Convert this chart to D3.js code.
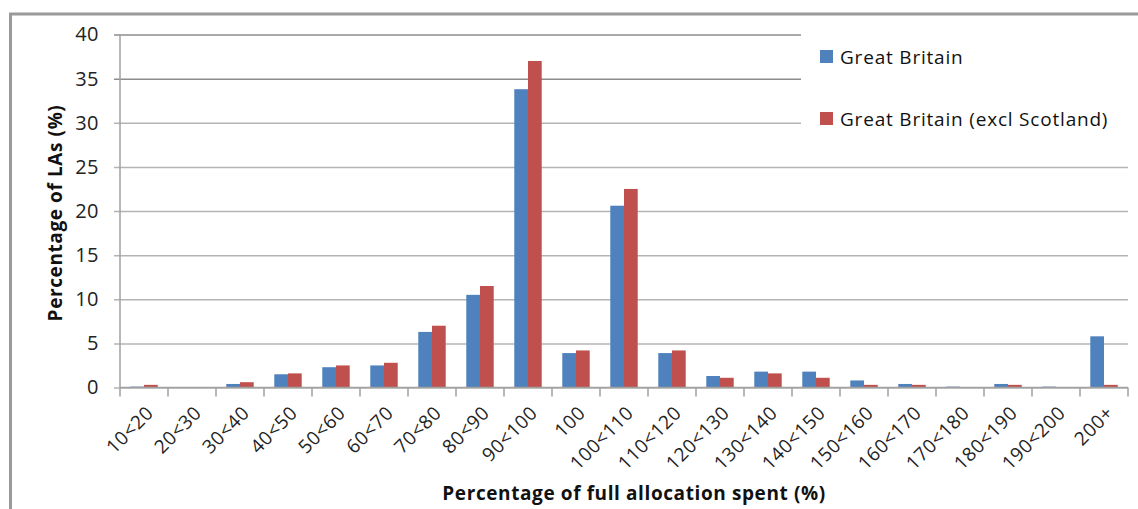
<!DOCTYPE html>
<html>
<head>
<meta charset="utf-8">
<script src="https://cdn.jsdelivr.net/npm/d3@7"></script>
<style>
  html, body { margin: 0; padding: 0; background: #fff; }
  svg { display: block; font-family: "Open Sans", "Lato", sans-serif; }
</style>
</head>
<body>
<svg id="chart" width="1138" height="509"></svg>
<script>
// Spending bands (% of full allocation)
const categories = ["10<20", "20<30", "30<40", "40<50", "50<60", "60<70", "70<80", "80<90",
  "90<100", "100", "100<110", "110<120", "120<130", "130<140", "140<150", "150<160",
  "160<170", "170<180", "180<190", "190<200", "200+"];

// Share of local authorities in each band (%)
const greatBritain = [0.1, 0, 0.4, 1.5, 2.3, 2.5, 6.3, 10.5, 33.8, 3.9, 20.6, 3.9, 1.3, 1.8, 1.8, 0.8, 0.4, 0.1, 0.4, 0.1, 5.8];
const greatBritainExclScotland = [0.3, 0, 0.6, 1.6, 2.5, 2.8, 7.0, 11.5, 37.0, 4.2, 22.5, 4.2, 1.1, 1.6, 1.1, 0.3, 0.3, 0, 0.3, 0, 0.3];

const seriesNames = ["Great Britain", "Great Britain (excl Scotland)"];
const seriesColors = ["#4F81BD", "#C0504D"];
const yTicks = [0, 5, 10, 15, 20, 25, 30, 35, 40];

const svg = d3.select("#chart");
const plot = { left: 120, right: 1128, top: 34.5, bottom: 387.5 };

// outer frame
svg.append("line").attr("x1", 10.5).attr("x2", 10.5).attr("y1", 13).attr("y2", 509)
  .attr("stroke", "#9a9a9a").attr("stroke-width", 3);
svg.append("line").attr("x1", 9).attr("x2", 1138).attr("y1", 14).attr("y2", 14)
  .attr("stroke", "#9a9a9a").attr("stroke-width", 3);

const x = d3.scaleBand().domain(categories).range([plot.left, plot.right]).paddingInner(0).paddingOuter(0);
const xSub = d3.scaleBand().domain(seriesNames).range([0, x.bandwidth()]).paddingInner(0).paddingOuter(0.75);
const y = d3.scaleLinear().domain([0, 40]).range([plot.bottom, plot.top]);

// horizontal gridlines with left tick marks
const yAxis = d3.axisLeft(y).tickValues(yTicks).tickSize(0).tickPadding(21).tickFormat(d3.format("d"));
const gy = svg.append("g").attr("transform", `translate(${plot.left},0)`).call(yAxis);
gy.select(".domain").remove();
gy.selectAll(".tick line").attr("x1", -6).attr("x2", plot.right - plot.left)
  .attr("stroke", d => d >= 35 ? "#8c8c8c" : "#b4b4b4").attr("stroke-width", 1.5);
gy.selectAll(".tick text").attr("font-size", 20).attr("fill", "#222")
  .attr("letter-spacing", "0.5px")
  .attr("font-family", "'Open Sans', sans-serif");

// vertical axis line
svg.append("line").attr("x1", plot.left).attr("x2", plot.left).attr("y1", plot.top).attr("y2", plot.bottom)
  .attr("stroke", "#a0a0a0").attr("stroke-width", 1.5);

// bars
const rows = categories.map((c, i) => ({ cat: c, vals: [greatBritain[i], greatBritainExclScotland[i]] }));
const groups = svg.append("g").selectAll("g").data(rows).join("g")
  .attr("transform", d => `translate(${x(d.cat)},0)`);
groups.selectAll("rect").data(d => d.vals.map((v, k) => ({ v, k }))).join("rect")
  .attr("x", d => xSub(seriesNames[d.k]))
  .attr("width", xSub.bandwidth())
  .attr("y", d => y(d.v))
  .attr("height", d => y(0) - y(d.v))
  .attr("fill", d => seriesColors[d.k]);

// horizontal axis with tick marks on band edges
svg.append("line").attr("x1", plot.left).attr("x2", plot.right).attr("y1", plot.bottom).attr("y2", plot.bottom)
  .attr("stroke", "#a0a0a0").attr("stroke-width", 1.5);
const edges = categories.map(c => x(c)).concat([plot.right]);
svg.append("g").selectAll("line").data(edges).join("line")
  .attr("x1", d => d).attr("x2", d => d).attr("y1", plot.bottom).attr("y2", plot.bottom + 9)
  .attr("stroke", "#a0a0a0").attr("stroke-width", 1.5);

// rotated category labels
svg.append("g").selectAll("text").data(categories).join("text")
  .attr("transform", d => `translate(${x(d) + x.bandwidth() / 2 + 6},${plot.bottom + 22}) rotate(-45)`)
  .attr("text-anchor", "end").attr("dy", "0.35em")
  .attr("font-size", 19).attr("letter-spacing", "0.6px").attr("fill", "#222")
  .text(d => d);

// axis titles
svg.append("text").attr("x", 634).attr("y", 500).attr("text-anchor", "middle")
  .attr("font-size", 19).attr("letter-spacing", "0.6px").attr("font-weight", "bold").attr("fill", "#111")
  .text("Percentage of full allocation spent (%)");
svg.append("text").attr("transform", "translate(62,213) rotate(-90)").attr("text-anchor", "middle")
  .attr("font-size", 19).attr("letter-spacing", "0.6px").attr("font-weight", "bold").attr("fill", "#111")
  .text("Percentage of LAs (%)");

// legend
svg.append("rect").attr("x", 801).attr("y", 22).attr("width", plot.right - 801 + 1).attr("height", 118).attr("fill", "#fff");
const legend = svg.append("g").selectAll("g").data(seriesNames).join("g")
  .attr("transform", (d, i) => `translate(820,${50 + i * 62})`);
legend.append("rect").attr("width", 13).attr("height", 13).attr("fill", (d, i) => seriesColors[i]);
legend.append("text").attr("x", 20).attr("y", 13.5).attr("font-size", 19).attr("letter-spacing", "0.8px")
  .attr("fill", "#111").text(d => d);
</script>
</body>
</html>
